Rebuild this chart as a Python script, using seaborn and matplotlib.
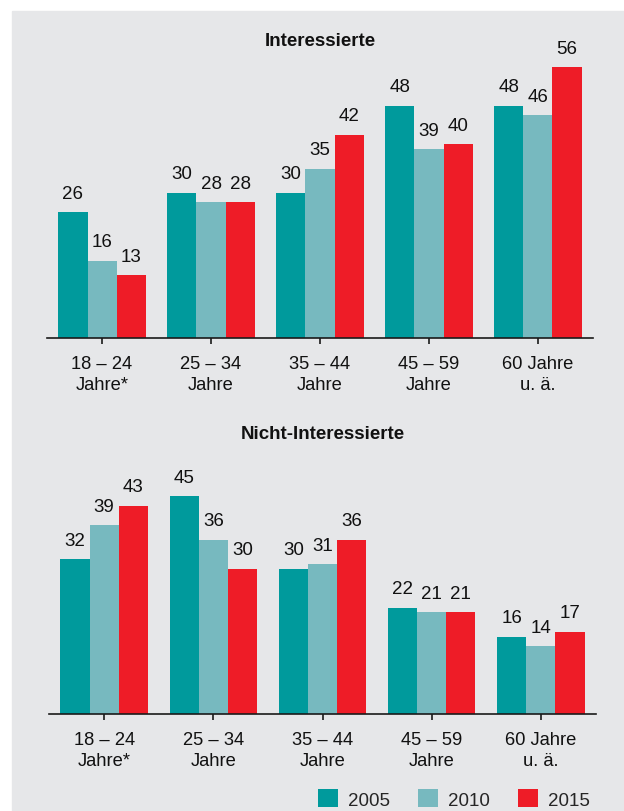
import matplotlib
matplotlib.use("Agg")
import matplotlib.pyplot as plt
from matplotlib.patches import Rectangle, Patch
import seaborn as sns
import pandas as pd

# chart data
age_groups = ['18 – 24\nJahre*', '25 – 34\nJahre', '35 – 44\nJahre',
              '45 – 59\nJahre', '60 Jahre\nu. ä.']
years = ['2005', '2010', '2015']
interested = {
    '2005': [26, 30, 30, 48, 48],
    '2010': [16, 28, 35, 39, 46],
    '2015': [13, 28, 42, 40, 56],
}
not_interested = {
    '2005': [32, 45, 30, 22, 16],
    '2010': [39, 36, 31, 21, 14],
    '2015': [43, 30, 36, 21, 17],
}

colors = ['#009a9c', '#77b9bf', '#ee1c27']
bg = '#e6e7e9'


def to_long(values):
    rows = []
    for y in years:
        for g, v in zip(age_groups, values[y]):
            rows.append({'group': g, 'year': y, 'value': v})
    return pd.DataFrame(rows)


sns.set_theme(style='white')
plt.rcParams['font.family'] = ['Liberation Sans', 'DejaVu Sans']

W, H = 624, 812
fig = plt.figure(figsize=(W / 100, H / 100), dpi=100)
fig.patch.set_facecolor('white')
fig.patches.append(Rectangle((12 / W, 0), 1 - 12 / W, 1 - 12 / H,
                             transform=fig.transFigure, color=bg, zorder=-10))

ax1 = fig.add_axes([47 / W, 1 - 339 / H, 546 / W, 290.4 / H])
ax2 = fig.add_axes([49 / W, 1 - 715 / H, 547 / W, 290.4 / H])

for ax, vals in [(ax1, interested), (ax2, not_interested)]:
    df = to_long(vals)
    sns.barplot(data=df, x='group', y='value', hue='year', order=age_groups,
                hue_order=years, palette=colors, saturation=1, width=0.8,
                gap=0, linewidth=0, legend=False, ax=ax)
    for c in ax.containers:
        ax.bar_label(c, fmt='%d', padding=7.5, fontsize=13.5, color='#111111')
    ax.set_facecolor('none')
    ax.set_xlim(-0.505, 4.505)
    ax.set_ylim(0, 60)
    ax.set_xlabel('')
    ax.set_ylabel('')
    ax.set_yticks([])
    for s in ['top', 'right', 'left']:
        ax.spines[s].set_visible(False)
    ax.spines['bottom'].set_color('#1a1a1a')
    ax.spines['bottom'].set_linewidth(1.2)
    ax.tick_params(axis='x', bottom=True, length=4, width=1.2, color='#1a1a1a',
                   pad=8, labelsize=13.2, labelcolor='#111111')
    for lbl in ax.get_xticklabels():
        lbl.set_linespacing(1.3)

fig.text(320 / W, 1 - 42 / H, 'Interessierte', ha='center', va='center',
         fontsize=13.5, fontweight='bold', color='#111111')
fig.text(323 / W, 1 - 435 / H, 'Nicht-Interessierte', ha='center', va='center',
         fontsize=13.5, fontweight='bold', color='#111111')

handles = [Patch(facecolor=c, edgecolor='none') for c in colors]
fig.legend(handles, years, loc='center', bbox_to_anchor=(454 / W, 1 - 800 / H),
           ncol=3, frameon=False, fontsize=13.5, handlelength=1.05,
           handleheight=1.05, handletextpad=0.55, columnspacing=1.5)

fig.savefig('out.png', dpi=100, facecolor='white')
